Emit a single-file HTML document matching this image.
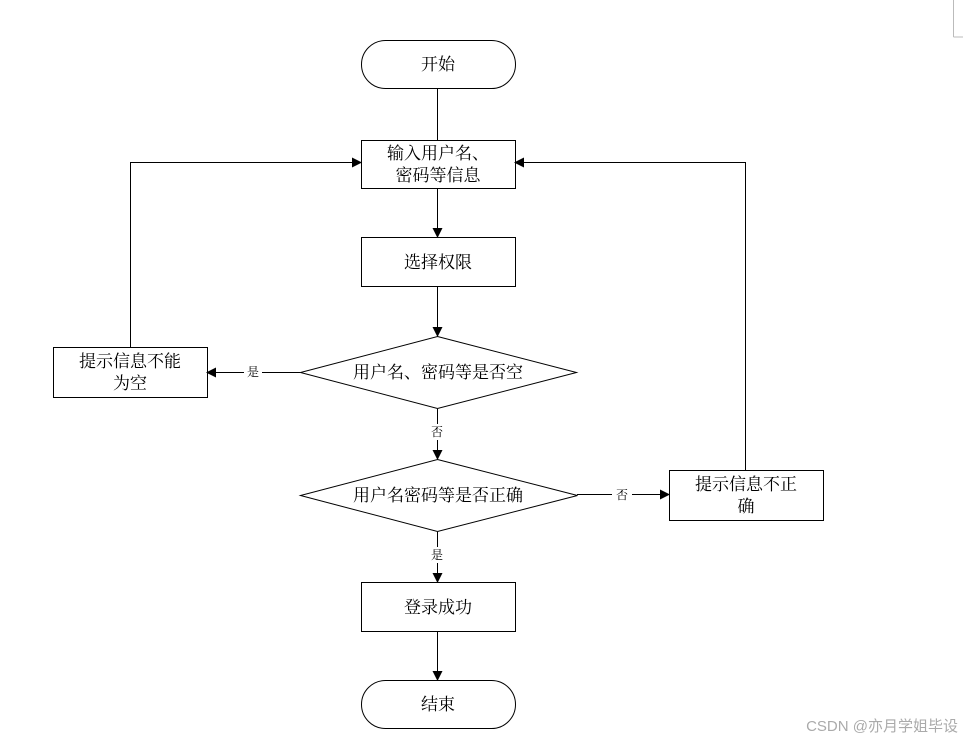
<!DOCTYPE html>
<html><head><meta charset="utf-8"><style>
html,body{margin:0;padding:0;background:#fff;}
svg text{font-family:"Liberation Serif","Noto Serif CJK SC",serif;fill:#000;}
</style></head><body>
<svg width="963" height="743" viewBox="0 0 963 743" xmlns="http://www.w3.org/2000/svg">
<defs><marker id="a" markerWidth="10" markerHeight="10" refX="9" refY="5" orient="auto" markerUnits="userSpaceOnUse"><path d="M0,0 L10,5 L0,10 z" fill="#000"/></marker></defs>
<g stroke="#000" stroke-width="1" fill="none">
<line x1="953.5" y1="0" x2="953.5" y2="37" stroke="#bbb"/>
<line x1="953.5" y1="37" x2="963" y2="37" stroke="#bbb"/>
<rect x="361.5" y="40.5" width="154" height="48" rx="24"/>
<line x1="437.5" y1="88" x2="437.5" y2="140"/>
<rect x="361.5" y="140.5" width="154" height="48"/>
<line x1="437.5" y1="188" x2="437.5" y2="237" marker-end="url(#a)"/>
<rect x="361.5" y="237.5" width="154" height="49"/>
<line x1="437.5" y1="286" x2="437.5" y2="336" marker-end="url(#a)"/>
<polygon points="437.5,336.5 576.5,372.5 437.5,408.5 300.5,372.5"/>
<line x1="300" y1="372.5" x2="207" y2="372.5" marker-end="url(#a)"/>
<rect x="53.5" y="347.5" width="154" height="50"/>
<polyline points="130.5,347 130.5,162.5 361,162.5" marker-end="url(#a)"/>
<line x1="437.5" y1="409" x2="437.5" y2="459" marker-end="url(#a)"/>
<polygon points="437.5,459.5 577.5,495.5 437.5,531.5 300.5,495.5"/>
<line x1="577" y1="494.5" x2="669" y2="494.5" marker-end="url(#a)"/>
<rect x="669.5" y="470.5" width="154" height="50"/>
<polyline points="745.5,470 745.5,162.5 515,162.5" marker-end="url(#a)"/>
<line x1="437.5" y1="532" x2="437.5" y2="582" marker-end="url(#a)"/>
<rect x="361.5" y="582.5" width="154" height="49"/>
<line x1="437.5" y1="631" x2="437.5" y2="680" marker-end="url(#a)"/>
<rect x="361.5" y="680.5" width="154" height="48" rx="24"/>
</g>
<rect x="244" y="364" width="18" height="16" fill="#fff"/>
<rect x="428" y="424" width="18" height="16" fill="#fff"/>
<rect x="612" y="487" width="20" height="16" fill="#fff"/>
<rect x="428" y="547" width="18" height="16" fill="#fff"/>
<g font-size="17" text-anchor="middle">
<text x="438" y="70">开始</text>
<text x="438" y="159">输入用户名、</text>
<text x="438" y="181">密码等信息</text>
<text x="438" y="268">选择权限</text>
<text x="438" y="378">用户名、密码等是否空</text>
<text x="130" y="367">提示信息不能</text>
<text x="130" y="389">为空</text>
<text x="438" y="501">用户名密码等是否正确</text>
<text x="746" y="490">提示信息不正</text>
<text x="746" y="512">确</text>
<text x="438" y="613">登录成功</text>
<text x="438" y="710">结束</text>
</g>
<g font-size="12" text-anchor="middle">
<text x="253" y="376">是</text>
<text x="437" y="436">否</text>
<text x="622" y="499">否</text>
<text x="437" y="559">是</text>
</g>
<text x="958" y="731" font-size="15" text-anchor="end" style="fill:#aaa;font-family:'Liberation Sans','Noto Sans CJK SC',sans-serif">CSDN @亦月学姐毕设</text>
</svg>
</body></html>
